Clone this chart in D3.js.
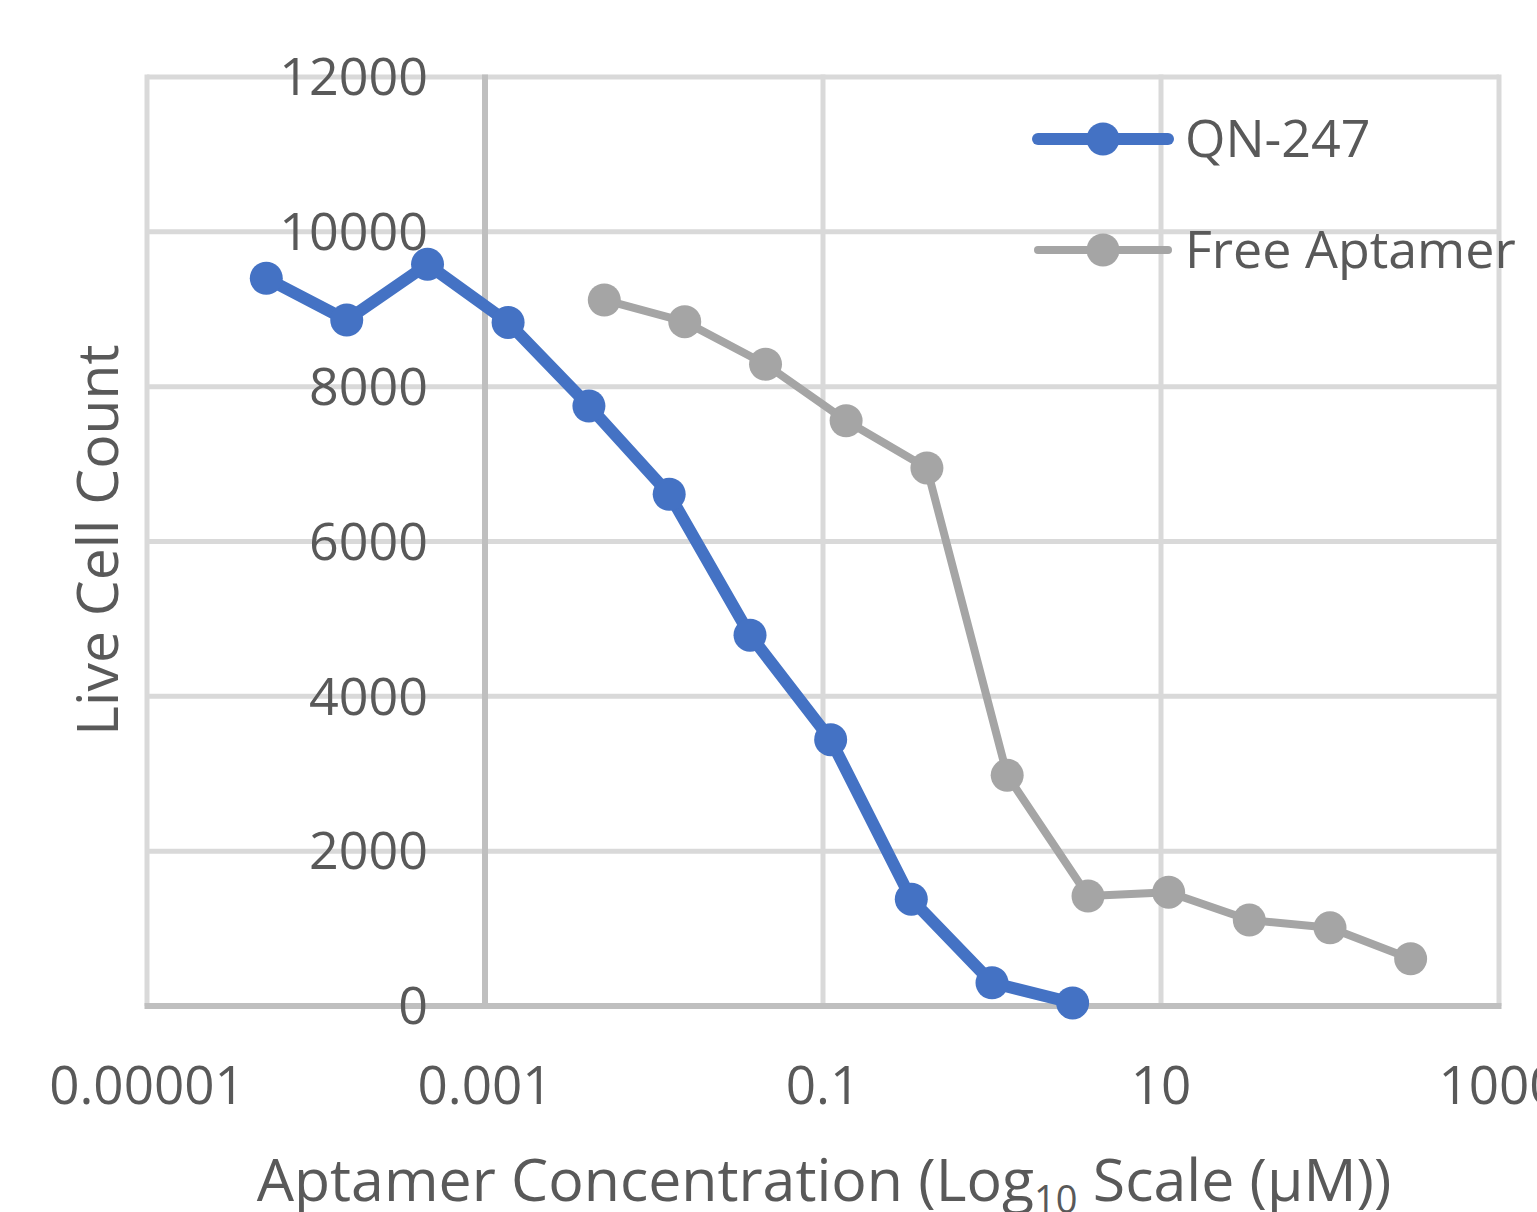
<!DOCTYPE html>
<html>
<head>
<meta charset="utf-8">
<script src="https://cdn.jsdelivr.net/npm/d3@7"></script>
<style>
  body { margin: 0; background: #fff; }
  svg text { font-family: "Open Sans", "Noto Sans", sans-serif; fill: #595959; }
</style>
</head>
<body>
<div id="chart"></div>
<script>
// Konzentrationen (µM) und Lebendzellzahlen
const qnConc = [0.0000508, 0.000152, 0.000457, 0.00137, 0.00412, 0.0123, 0.037, 0.111, 0.333, 1, 3];
const qnCount = [9400, 8860, 9580, 8830, 7750, 6610, 4790, 3440, 1380, 300, 40];
const freeConc = [0.00508, 0.0152, 0.0457, 0.137, 0.412, 1.23, 3.7, 11.1, 33.3, 100, 300];
const freeCount = [9120, 8840, 8290, 7560, 6950, 2980, 1420, 1470, 1110, 1010, 610];

const xTicks = [0.00001, 0.001, 0.1, 10, 1000];
const xTickLabels = ["0.00001", "0.001", "0.1", "10", "1000"];
const yTicks = [0, 2000, 4000, 6000, 8000, 10000, 12000];

const series = [
    { name: "QN-247", conc: qnConc, count: qnCount, color: "#4472C4", width: 12 },
    { name: "Free Aptamer", conc: freeConc, count: freeCount, color: "#A5A5A5", width: 8 }
];

const width = 1537, height = 1212;
const margin = { left: 147, right: 38, top: 77, bottom: 206 };

const svg = d3.select("#chart").append("svg")
    .attr("width", width)
    .attr("height", height);

const x = d3.scaleLog()
    .domain([0.00001, 1000])
    .range([margin.left, width - margin.right]);

const y = d3.scaleLinear()
    .domain([0, 12000])
    .range([height - margin.bottom, margin.top]);

// Gitterlinien
svg.append("g")
    .selectAll("line")
    .data(yTicks.filter(d => d > 0))
    .enter().append("line")
    .attr("x1", x.range()[0])
    .attr("x2", x.range()[1])
    .attr("y1", d => y(d))
    .attr("y2", d => y(d))
    .attr("stroke", "#D9D9D9")
    .attr("stroke-width", 5);

svg.append("g")
    .selectAll("line")
    .data(xTicks.filter(d => d !== 0.001))
    .enter().append("line")
    .attr("x1", d => x(d))
    .attr("x2", d => x(d))
    .attr("y1", y(0))
    .attr("y2", y(12000) - 2.5)
    .attr("stroke", "#D9D9D9")
    .attr("stroke-width", 5);

// Achsenlinien (vertikale Achse kreuzt bei 0.001)
svg.append("line")
    .attr("x1", x(0.001)).attr("x2", x(0.001))
    .attr("y1", y(0)).attr("y2", y(12000) - 2.5)
    .attr("stroke", "#BFBFBF")
    .attr("stroke-width", 6);

svg.append("line")
    .attr("x1", x.range()[0] - 2.5).attr("x2", x.range()[1] + 2.5)
    .attr("y1", y(0)).attr("y2", y(0))
    .attr("stroke", "#BFBFBF")
    .attr("stroke-width", 6);

// Y-Beschriftungen
svg.append("g")
    .selectAll("text")
    .data(yTicks)
    .enter().append("text")
    .attr("x", x(0.001) - 57)
    .attr("y", d => y(d))
    .attr("dy", "0.35em")
    .attr("text-anchor", "end")
    .attr("font-size", "52px")
    .text(d => d);

// X-Beschriftungen
svg.append("g")
    .selectAll("text")
    .data(xTicks)
    .enter().append("text")
    .attr("x", d => x(d))
    .attr("y", 1085)
    .attr("dy", "0.35em")
    .attr("text-anchor", "middle")
    .attr("font-size", "53px")
    .text((d, i) => xTickLabels[i]);

// Achsentitel
const xTitle = svg.append("text")
    .attr("x", 824)
    .attr("y", 1201)
    .attr("text-anchor", "middle")
    .attr("font-size", "59px");
xTitle.append("tspan").text("Aptamer Concentration (Log");
xTitle.append("tspan").attr("font-size", "38px").attr("dy", 12).text("10");
xTitle.append("tspan").attr("dy", -12).text(" Scale (µM))");

svg.append("text")
    .attr("transform", "translate(118, 540) rotate(-90)")
    .attr("text-anchor", "middle")
    .attr("font-size", "57px")
    .text("Live Cell Count");

// Linien und Marker
const line = d3.line()
    .x(d => x(d[0]))
    .y(d => y(d[1]));

series.slice().reverse().forEach(s => {
    const pts = s.conc.map((c, i) => [c, s.count[i]]);
    const g = svg.append("g");
    g.append("path")
        .datum(pts)
        .attr("d", line)
        .attr("fill", "none")
        .attr("stroke", s.color)
        .attr("stroke-width", s.width)
        .attr("stroke-linejoin", "round");
    g.selectAll("circle")
        .data(pts)
        .enter().append("circle")
        .attr("cx", d => x(d[0]))
        .attr("cy", d => y(d[1]))
        .attr("r", 16.5)
        .attr("fill", s.color);
});

// Legende
const legend = svg.append("g")
    .selectAll("g")
    .data(series)
    .enter().append("g")
    .attr("transform", (d, i) => `translate(1038, ${139 + i * 111})`);

legend.append("line")
    .attr("x1", 0).attr("x2", 130)
    .attr("stroke", d => d.color)
    .attr("stroke-width", d => d.width)
    .attr("stroke-linecap", "round");

legend.append("circle")
    .attr("cx", 65)
    .attr("r", 16.5)
    .attr("fill", d => d.color);

legend.append("text")
    .attr("x", 147)
    .attr("dy", "0.35em")
    .attr("font-size", "52px")
    .text(d => d.name);
</script>
</body>
</html>
